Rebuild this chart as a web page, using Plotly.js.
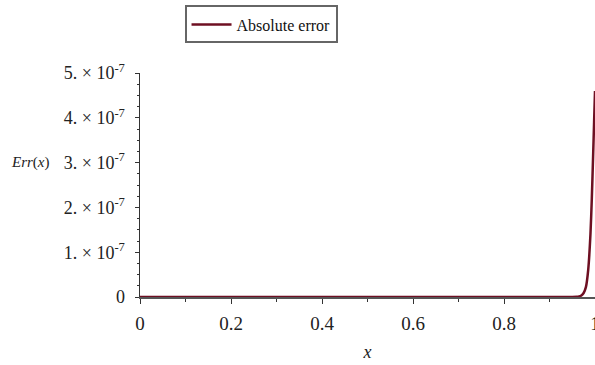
<!DOCTYPE html>
<html>
<head>
<meta charset="utf-8">
<script src="https://cdn.plot.ly/plotly-3.0.1.min.js"></script>
<style>html,body{margin:0;padding:0;background:#fff;}#chart{width:595px;height:365px;}</style>
</head>
<body>
<div id="chart"></div>
<script>
const xValues = [0, 0.1, 0.2, 0.3, 0.4, 0.5, 0.6, 0.7, 0.8, 0.9, 0.95, 0.96, 0.965, 0.97, 0.975, 0.98, 0.985, 0.99, 0.993, 0.996, 0.998, 1.0];
const errValues = [0, 0, 0, 0, 0, 0, 0, 0, 0, 0, 0.001e-7, 0.004e-7, 0.012e-7, 0.035e-7, 0.09e-7, 0.22e-7, 0.6e-7, 1.4e-7, 2.2e-7, 3.2e-7, 3.9e-7, 4.6e-7];
const yTickVals = [0, 1e-7, 2e-7, 3e-7, 4e-7, 5e-7];
const yTickText = ["0", "1. × 10<sup>-7</sup>", "2. × 10<sup>-7</sup>", "3. × 10<sup>-7</sup>", "4. × 10<sup>-7</sup>", "5. × 10<sup>-7</sup>"];
const xTickVals = [0, 0.2, 0.4, 0.6, 0.8, 1];
const xTickText = ["0", "0.2", "0.4", "0.6", "0.8", "1"];

const font = "Liberation Serif, Times New Roman, serif";
const trace = {
  x: xValues, y: errValues, type: "scatter", mode: "lines",
  name: "Absolute error",
  line: {color: "#6e0f22", width: 2.5, shape: "spline", smoothing: 0.6}
};
const layout = {
  width: 595, height: 365,
  margin: {l: 140, r: 0, t: 73, b: 68},
  paper_bgcolor: "#fff", plot_bgcolor: "#fff",
  font: {family: font, size: 16, color: "#222"},
  showlegend: true,
  legend: {
    x: 0.266, y: 0.985, xref: "paper", yref: "container", xanchor: "center", yanchor: "top",
    bordercolor: "#666", borderwidth: 2, bgcolor: "#fff", itemwidth: 40,
    font: {family: font, size: 16, color: "#111"}
  },
  annotations: [{
    text: "<i>Err</i>(<i>x</i>)", xref: "paper", yref: "paper", x: -0.24, y: 0.6,
    xanchor: "center", yanchor: "middle", showarrow: false,
    font: {family: font, size: 15, color: "#222"}
  }],
  xaxis: {
    range: [0, 1], showgrid: false, zeroline: false,
    showline: true, linecolor: "#555", linewidth: 1.5,
    tickvals: xTickVals, ticktext: xTickText,
    ticks: "outside", ticklen: 5, tickcolor: "#333",
    ticklabeloverflow: "allow", ticklabelstandoff: 4,
    tickfont: {family: font, size: 19, color: "#222"},
    minor: {dtick: 0.1, ticks: "outside", ticklen: 3, tickcolor: "#333"},
    title: {text: "<i>x</i>", font: {family: font, size: 18, color: "#222"}, standoff: 12},
    fixedrange: true
  },
  yaxis: {
    range: [0, 5e-7], showgrid: false, zeroline: false,
    showline: true, linecolor: "#333", linewidth: 1.5,
    tickvals: yTickVals, ticktext: yTickText,
    ticks: "outside", ticklen: 4, tickcolor: "#333",
    ticklabelstandoff: 6,
    tickfont: {family: font, size: 18, color: "#222"},
    minor: {dtick: 2.5e-8, ticks: "outside", ticklen: 2, tickcolor: "#333"},
    fixedrange: true
  }
};
Plotly.newPlot("chart", [trace], layout, {displayModeBar: false, staticPlot: true});
</script>
</body>
</html>
